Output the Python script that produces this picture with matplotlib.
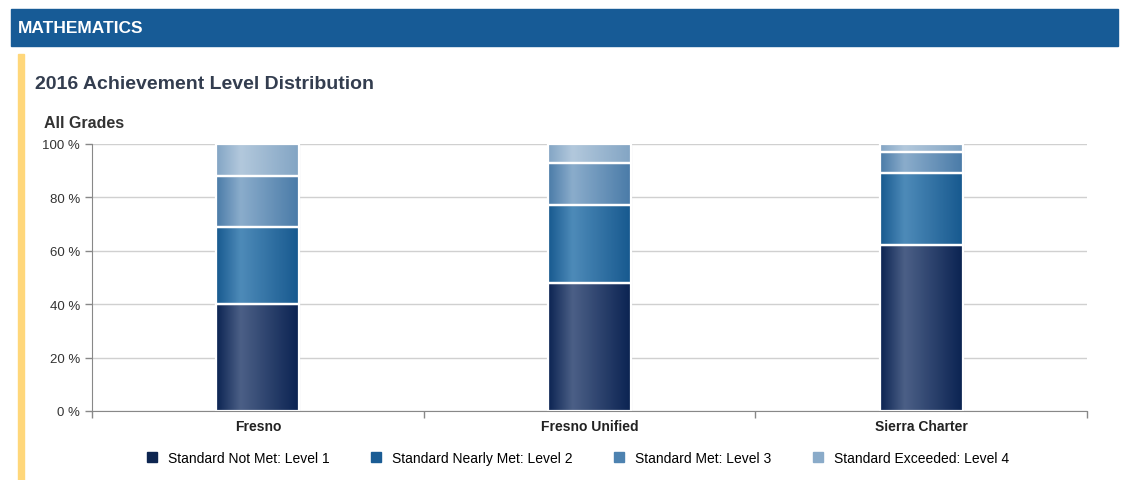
import numpy as np
import matplotlib
matplotlib.use("Agg")
import matplotlib.pyplot as plt
from matplotlib.patches import Rectangle
from matplotlib.colors import LinearSegmentedColormap

plt.rcParams['font.family'] = ['Liberation Sans', 'DejaVu Sans']

# data
districts = ["Fresno", "Fresno Unified", "Sierra Charter"]
level_names = ["Standard Not Met: Level 1", "Standard Nearly Met: Level 2",
               "Standard Met: Level 3", "Standard Exceeded: Level 4"]
level1 = [40, 48, 62]
level2 = [29, 29, 27]
level3 = [19, 16, 8]
level4 = [12, 7, 3]
y_ticks = [0, 20, 40, 60, 80, 100]

# colours: base (edges of bar), highlight (shine), legend swatch
bases = ["#0b2352", "#17598f", "#4a7ba8", "#83a5c4"]
shines = ["#4b5f86", "#4d8ab8", "#8aaccb", "#b2c8dc"]
swatches = ["#0d2550", "#1a5c94", "#4d82b0", "#8aabc9"]

W, H = 1131, 481
fig = plt.figure(figsize=(W / 100, H / 100), dpi=100)

# header bar + yellow side line
fig.patches.append(Rectangle((11 / W, 1 - 47 / H), 1107 / W, 37 / H,
                             transform=fig.transFigure, color="#175b96", zorder=0))
fig.patches.append(Rectangle((18 / W, 0), 6 / W, 1 - 55 / H,
                             transform=fig.transFigure, color="#ffd77a", zorder=0))
fig.text(18 / W, 1 - 29 / H, "MATHEMATICS", color="white", fontsize=12.5,
         fontweight="bold", va="center", ha="left")
fig.text(35 / W, 1 - 85 / H, "2016 Achievement Level Distribution", color="#333d4f",
         fontsize=14, fontweight="bold", va="center", ha="left")
fig.text(44 / W, 1 - 123 / H, "All Grades", color="#333333",
         fontsize=11.5, fontweight="bold", va="center", ha="left")

ax = fig.add_axes([92 / W, 1 - 412 / H, 995 / W, 267 / H])
x = np.arange(len(districts))
levels = [level1, level2, level3, level4]

# horizontal shine gradient profile
prof = np.concatenate([np.linspace(0, 1, 30), np.linspace(1, 0, 70)])
bottom = np.zeros(len(districts))
for i, vals in enumerate(levels):
    bars = ax.bar(x, vals, width=0.25, bottom=bottom, color=bases[i],
                  edgecolor="none", zorder=3)
    cmap = LinearSegmentedColormap.from_list("g%d" % i, [bases[i], shines[i]])
    for b in bars:
        x0, y0 = b.get_x(), b.get_y()
        im = ax.imshow(prof[None, :], cmap=cmap, aspect="auto",
                       extent=[x0, x0 + b.get_width(), y0, y0 + b.get_height()],
                       zorder=3.5, interpolation="bilinear")
        im.set_clip_path(b)
        # thin grey outline and white gap around each segment
        ax.add_patch(Rectangle((x0, y0), b.get_width(), b.get_height(), fill=False,
                               edgecolor="#a9b4c2", linewidth=0.8, zorder=3.7))
        ax.add_patch(Rectangle((x0, y0), b.get_width(), b.get_height(), fill=False,
                               edgecolor="white", linewidth=1.6, zorder=3.8,
                               joinstyle="miter"))
    bottom += np.array(vals)

ax.set_xlim(-0.5, 2.5)
ax.set_ylim(0, 100)
ax.set_yticks(y_ticks)
ax.set_yticklabels(["%d %%" % v for v in y_ticks], fontsize=9.5, color="#333333")
ax.yaxis.grid(True, color="#d0d0d0", linewidth=1, zorder=0)
ax.set_xticks(x)
ax.set_xticklabels(districts, fontsize=10, fontweight="bold", color="#222222")
ax.tick_params(axis="x", length=0, pad=6)
ax.tick_params(axis="y", length=5, color="#888888", width=1)
# category separators
ax.set_xticks([-0.5, 0.5, 1.5, 2.5], minor=True)
ax.tick_params(axis="x", which="minor", length=5, color="#888888", width=1)
for s in ["top", "right"]:
    ax.spines[s].set_visible(False)
ax.spines["left"].set_color("#888888")
ax.spines["bottom"].set_color("#888888")
ax.spines["left"].set_zorder(5)
ax.spines["bottom"].set_zorder(5)

handles = [Rectangle((0, 0), 1, 1, color=c) for c in swatches]
fig.legend(handles, level_names, loc="center", bbox_to_anchor=(578 / W, 1 - 459 / H),
           ncol=4, frameon=False, fontsize=10, handlelength=0.7, handleheight=0.7,
           columnspacing=3.0, handletextpad=0.8)

fig.savefig("out.png", dpi=100)
